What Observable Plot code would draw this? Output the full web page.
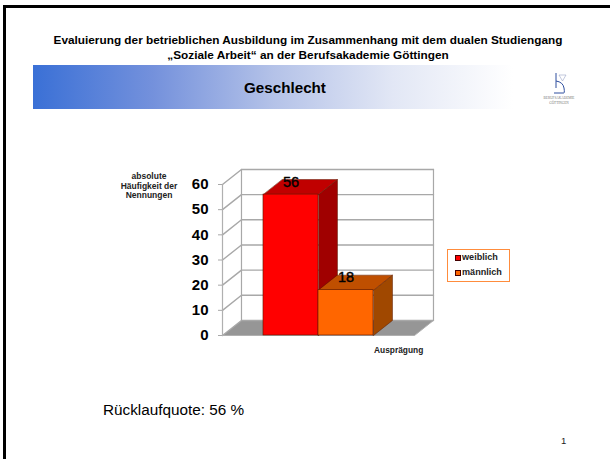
<!DOCTYPE html>
<html lang="de">
<head>
<meta charset="utf-8">
<script src="https://cdn.jsdelivr.net/npm/d3@7"></script>
<script src="https://cdn.jsdelivr.net/npm/@observablehq/plot@0.6"></script>
<style>
html,body{margin:0;padding:0;background:#fff;}
#page{position:relative;width:610px;height:459px;overflow:hidden;font-family:"Liberation Sans",Arial,sans-serif;color:#000;}
#page>div,#page>svg.logo{position:absolute;}
#frameTop{left:3px;top:5px;width:607px;height:3px;background:#000;}
#frameLeft{left:3px;top:5px;width:3px;height:454px;background:#000;}
#title{left:0;width:616px;top:33px;text-align:center;font-weight:700;font-size:11.8px;line-height:14.5px;white-space:nowrap;}
#band{left:33px;top:65px;width:480px;height:44px;background:linear-gradient(90deg,#3a70d6 0%,#7491dc 25%,#b4c2e8 50%,#e2e7f5 75%,#fff 100%);}
#head{left:33px;width:504px;top:79px;text-align:center;font-weight:700;font-size:15.2px;line-height:18px;}
#quote{left:103px;top:401px;font-size:15.3px;line-height:18px;}
#num{left:561px;top:435px;font-size:9.5px;line-height:11px;color:#222;}
#ylab{left:114px;top:172px;width:70px;text-align:center;font-weight:700;font-size:8.5px;line-height:9.7px;color:#222;white-space:nowrap;}
#xlab{left:374px;top:346px;font-weight:700;font-size:8.4px;line-height:9px;color:#222;}
#legend{left:447px;top:249px;width:61px;height:31px;border:1px solid #ff8c3c;font-weight:700;font-size:9.1px;color:#222;}
#legend span{position:absolute;left:7px;white-space:nowrap;padding-left:7px;line-height:10px;}
#legend i{position:absolute;left:0;top:3px;width:4px;height:4px;border:.6px solid #400;}
#chart{left:0;top:0;}
</style>
</head>
<body>
<div id="page">
  <div id="chart"></div>
  <div id="frameTop"></div><div id="frameLeft"></div>
  <div id="title">Evaluierung der betrieblichen Ausbildung im Zusammenhang mit dem dualen Studiengang<br>„Soziale Arbeit“ an der Berufsakademie Göttingen</div>
  <div id="band"></div>
  <div id="head">Geschlecht</div>
  <svg class="logo" style="left:539px;top:68px" width="40" height="42" viewBox="0 0 40 42">
    <path d="M17 5V20 M17 13Q24 14 25 20T24 25H15" fill="none" stroke="#2f4f9f" stroke-width="1"/>
    <path d="M20 7H27L23.5 13Z" fill="none" stroke="#9aa5c8" stroke-width=".6"/>
    <text x="20" y="31" text-anchor="middle" font-size="3.4" fill="#777" font-family="Liberation Serif">BERUFSAKADEMIE</text>
    <text x="20" y="36" text-anchor="middle" font-size="3.4" fill="#777" font-family="Liberation Serif">GÖTTINGEN</text>
  </svg>
  <div id="ylab">absolute<br>Häufigkeit der<br>Nennungen</div>
  <div id="xlab">Ausprägung</div>
  <div id="legend"></div>
  <div id="quote">Rücklaufquote: 56 %</div>
  <div id="num">1</div>
</div>
<script>
const categories = ["weiblich", "männlich"];
const values = [56, 18];
const frontColors = ["#ff0000", "#ff6600"];
const topColors = ["#c00000", "#bf4f00"];
const sideColors = ["#a00000", "#a04800"];
const yTicks = [0, 10, 20, 30, 40, 50, 60];
const yMax = 60;
const xMin = -0.745, xMax = 2.745;      // plot floor, in bar widths
const depthX = 0.345, depthY = 5.98;    // oblique depth, in data units

// One closed polygon for each face, built from the values.
const face = (pts, fill) => pts.map(([x, y, d]) => ({x: x + d * depthX, y: y + d * depthY, fill}));
const poly = (pts, fill, stroke, strokeWidth) =>
  Plot.line(face(pts, fill), {x: "x", y: "y", fill, stroke, strokeWidth, curve: "linear-closed"});

const marks = [];
// Floor and walls
marks.push(poly([[xMin,0,0],[xMax,0,0],[xMax,0,1],[xMin,0,1]], "#969696", "none", 0));
// Gridlines: back wall and left wall
for (const t of yTicks) {
  marks.push(Plot.line(face([[xMin,t,0],[xMin,t,1],[xMax,t,1]]), {x:"x", y:"y", stroke:"#a8a8a8", strokeWidth:1.4}));
}
// Wall edges
marks.push(Plot.line(face([[xMin,0,0],[xMin,yMax,0]]), {x:"x", y:"y", stroke:"#b0b0b0", strokeWidth:1.2}));
marks.push(Plot.line(face([[xMin,0,1],[xMin,yMax,1]]), {x:"x", y:"y", stroke:"#a8a8a8", strokeWidth:1.2}));
marks.push(Plot.line(face([[xMax,0,1],[xMax,yMax,1]]), {x:"x", y:"y", stroke:"#a8a8a8", strokeWidth:1.2}));
marks.push(Plot.line(face([[xMin,0,0],[xMax,0,0],[xMax,0,1]]), {x:"x", y:"y", stroke:"#b0b0b0", strokeWidth:1}));
// Bars
values.forEach((v, i) => {
  const [a, b] = [i, i + 1];
  marks.push(poly([[b,0,0],[b,0,1],[b,v,1],[b,v,0]], sideColors[i], "#5a1a00", 0.5));
  marks.push(poly([[a,v,0],[b,v,0],[b,v,1],[a,v,1]], topColors[i], "#5a1a00", 0.5));
  marks.push(Plot.rect([{a, b, v}], {x1:"a", x2:"b", y1:0, y2:"v", fill:frontColors[i], stroke:"#5a1a00", strokeWidth:0.6}));
});
// Value labels
marks.push(Plot.text(values.map((v, i) => ({x: i + 0.5, y: v + 5, label: String(v)})), {
  x:"x", y:"y", text:"label", fontSize:14.5, fontWeight:400, fill:"#000", stroke:"#000", strokeWidth:0.4
}));
// Y axis
marks.push(Plot.axisY(yTicks, {anchor:"left", tickSize:4, tickPadding:10, fontSize:15, fontWeight:700, stroke:"#a8a8a8", color:"#000", label:null}));

const chart = Plot.plot({
  width: 610, height: 459,
  marginLeft: 222, marginRight: 196, marginTop: 184, marginBottom: 124,
  style: {background:"transparent", fontFamily:'"Liberation Sans",Arial,sans-serif', overflow:"visible"},
  x: {type:"linear", domain:[xMin, xMax], axis:null},
  y: {type:"linear", domain:[0, yMax], label:null},
  marks
});
document.getElementById("chart").append(chart);

const legend = document.getElementById("legend");
categories.forEach((c, i) => {
  const s = document.createElement("span");
  s.style.top = (2 + i * 15) + "px";
  s.textContent = c;
  const sw = document.createElement("i");
  sw.style.background = frontColors[i];
  s.prepend(sw);
  legend.append(s);
});
</script>
</body>
</html>
